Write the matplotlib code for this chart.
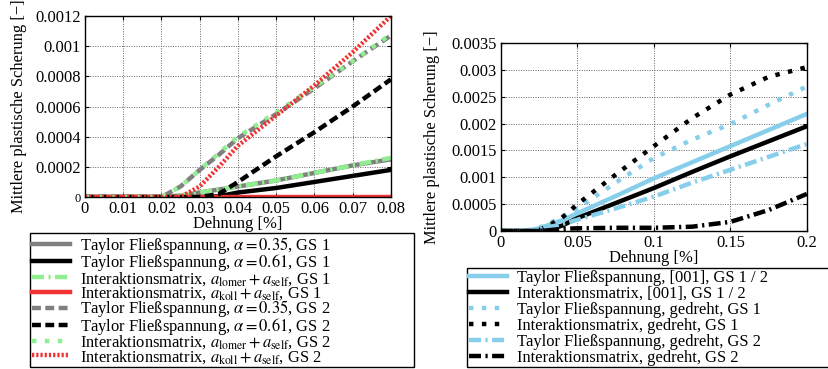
#!/usr/bin/env python
# -*- coding: utf-8 -*-

import matplotlib
matplotlib.use("Agg")
import matplotlib.pyplot as plt
from matplotlib.ticker import FixedLocator, FixedFormatter

plt.rcParams['font.family'] = ['Liberation Serif', 'DejaVu Serif']
plt.rcParams['mathtext.fontset'] = 'stix'

# left chart: Dehnung [%] vs. mittlere plastische Scherung
x_left = [0, 0.01, 0.02, 0.025, 0.03, 0.035, 0.04, 0.05, 0.06, 0.07, 0.08]
taylor035_gs1 = [0, 0, 0, 0.00001, 0.00003, 0.00005, 0.00007, 0.00011, 0.00016, 0.00021, 0.00025]
taylor061_gs1 = [0, 0, 0, 0, 0, 0.000005, 0.00003, 0.00006, 0.0001, 0.00014, 0.00018]
lomer_gs1 = [0, 0, 0, 0.00001, 0.00003, 0.00005, 0.00007, 0.00011, 0.00016, 0.00021, 0.00026]
koll_gs1 = [0, 0, 0, 0, 0, 0, 0, 0, 0, 0, 0]
taylor035_gs2 = [0, 0, 0, 0.00007, 0.00018, 0.00028, 0.00039, 0.00055, 0.00072, 0.0009, 0.00107]
taylor061_gs2 = [0, 0, 0, 0, 0, 0.00002, 0.0001, 0.00027, 0.00043, 0.0006, 0.00078]
lomer_gs2 = [0, 0, 0, 0.00007, 0.00018, 0.00029, 0.0004, 0.00056, 0.00073, 0.0009, 0.00108]
koll_gs2 = [0, 0, 0, 0, 0.00007, 0.0002, 0.00034, 0.00054, 0.00074, 0.00096, 0.0012]

left_labels = [
    r'Taylor Fließspannung, $\alpha = 0.35$, GS 1',
    r'Taylor Fließspannung, $\alpha = 0.61$, GS 1',
    r'Interaktionsmatrix, $a_{\mathrm{lomer}} + a_{\mathrm{self}}$, GS 1',
    r'Interaktionsmatrix, $a_{\mathrm{koll}} + a_{\mathrm{self}}$, GS 1',
    r'Taylor Fließspannung, $\alpha = 0.35$, GS 2',
    r'Taylor Fließspannung, $\alpha = 0.61$, GS 2',
    r'Interaktionsmatrix, $a_{\mathrm{lomer}} + a_{\mathrm{self}}$, GS 2',
    r'Interaktionsmatrix, $a_{\mathrm{koll}} + a_{\mathrm{self}}$, GS 2',
]
left_xticks = [0, 0.01, 0.02, 0.03, 0.04, 0.05, 0.06, 0.07, 0.08]
left_xticklabels = ['0', '0.01', '0.02', '0.03', '0.04', '0.05', '0.06', '0.07', '0.08']
left_yticks = [0, 0.0002, 0.0004, 0.0006, 0.0008, 0.001, 0.0012]
left_yticklabels = ['0', '0.0002', '0.0004', '0.0006', '0.0008', '0.001', '0.0012']

# right chart
x_right = [0, 0.01, 0.02, 0.025, 0.03, 0.04, 0.05, 0.075, 0.1, 0.125, 0.15, 0.175, 0.2]
taylor_001 = [0, 0, 0.00002, 0.00005, 0.0001, 0.0002, 0.00033, 0.00065, 0.00098, 0.00128, 0.00158, 0.00188, 0.00218]
inter_001 = [0, 0, 0, 0, 0.00001, 0.0001, 0.00024, 0.00052, 0.0008, 0.0011, 0.00139, 0.00167, 0.00195]
taylor_gedreht1 = [0, 0, 0.00002, 0.00006, 0.00012, 0.00026, 0.00042, 0.0009, 0.00136, 0.0017, 0.00199, 0.00235, 0.00269]
inter_gedreht1 = [0, 0, 0, 0.00002, 0.00008, 0.00025, 0.0005, 0.00105, 0.00158, 0.0021, 0.00254, 0.00287, 0.00305]
taylor_gedreht2 = [0, 0, 0.00001, 0.00003, 0.00006, 0.00013, 0.00021, 0.00042, 0.00064, 0.0009, 0.00114, 0.00138, 0.00162]
inter_gedreht2 = [0, 0, 0, 0, 0.00001, 0.00004, 0.00005, 0.00006, 0.00006, 0.00008, 0.00017, 0.00039, 0.00069]

right_labels = [
    'Taylor Fließspannung, [001], GS 1 / 2',
    'Interaktionsmatrix, [001], GS 1 / 2',
    'Taylor Fließspannung, gedreht, GS 1',
    'Interaktionsmatrix, gedreht, GS 1',
    'Taylor Fließspannung, gedreht, GS 2',
    'Interaktionsmatrix, gedreht, GS 2',
]
right_xticks = [0, 0.05, 0.1, 0.15, 0.2]
right_xticklabels = ['0', '0.05', '0.1', '0.15', '0.2']
right_yticks = [0, 0.0005, 0.001, 0.0015, 0.002, 0.0025, 0.003, 0.0035]
right_yticklabels = ['0', '0.0005', '0.001', '0.0015', '0.002', '0.0025', '0.003', '0.0035']

GRAY = '#808080'
GREEN = '#90ee90'
RED = '#f03232'
BLUE = '#87ceeb'
LW = 3.2
FS = 11.9

SOLID = '-'
DASHED = (0, (2.0, 1.0))
DASHDOT = (0, (2.7, 1.0, 0.5, 1.0))
DOTTED = (0, (1.0, 1.9))
FINEDOT = (0, (0.5, 0.45))


def setup_axes(ax, xticks, xlabels, yticks, ylabels, xlim, ylim):
    ax.set_xlim(*xlim)
    ax.set_ylim(*ylim)
    ax.xaxis.set_major_locator(FixedLocator(xticks))
    ax.xaxis.set_major_formatter(FixedFormatter(xlabels))
    ax.yaxis.set_major_locator(FixedLocator(yticks))
    ax.yaxis.set_major_formatter(FixedFormatter(ylabels))
    ax.grid(True, color='#666666', linestyle=(0, (1, 1.5)), linewidth=0.7)
    ax.tick_params(direction='in', length=3, width=0.8, labelsize=FS,
                   top=True, right=True, pad=3)
    for sp in ax.spines.values():
        sp.set_linewidth(1.0)
    ax.set_xlabel('Dehnung [%]', fontsize=FS, labelpad=-1)
    ax.set_ylabel('Mittlere plastische Scherung [−]', fontsize=FS)


def add_legend(ax, fig, box, spacing):
    leg = ax.legend(loc='upper left', bbox_to_anchor=box, bbox_transform=fig.transFigure,
                    mode='expand', borderaxespad=0, fontsize=FS, handlelength=2.3,
                    labelspacing=spacing, borderpad=0.1, handletextpad=0.6,
                    fancybox=False, framealpha=1)
    leg.get_frame().set_edgecolor('black')
    leg.get_frame().set_linewidth(1.0)


def main():
    fig = plt.figure(figsize=(8.29, 3.69), dpi=100)

    ax1 = fig.add_axes([0.1025, 0.466, 0.369, 0.4905])
    ax1.plot(x_left, taylor035_gs1, color=GRAY, lw=LW, ls=SOLID, label=left_labels[0])
    ax1.plot(x_left, taylor061_gs1, color='black', lw=LW, ls=SOLID, label=left_labels[1])
    ax1.plot(x_left, lomer_gs1, color=GREEN, lw=LW, ls=DASHDOT, label=left_labels[2])
    ax1.plot(x_left, koll_gs1, color=RED, lw=LW, ls=SOLID, label=left_labels[3])
    ax1.plot(x_left, taylor035_gs2, color=GRAY, lw=LW, ls=DASHED, label=left_labels[4])
    ax1.plot(x_left, taylor061_gs2, color='black', lw=LW, ls=DASHED, label=left_labels[5])
    ax1.plot(x_left, lomer_gs2, color=GREEN, lw=LW, ls=DOTTED, label=left_labels[6])
    ax1.plot(x_left, koll_gs2, color=RED, lw=LW, ls=FINEDOT, label=left_labels[7])
    setup_axes(ax1, left_xticks, left_xticklabels, left_yticks, left_yticklabels,
               (0, 0.08), (0, 0.0012))
    ax1.get_yticklabels()[0].set_fontsize(9)
    ax1.yaxis.set_label_coords(-0.19, 0.5)
    add_legend(ax1, fig, (0.0362, 0.0054, 0.463, 0.363), -0.21)

    ax2 = fig.add_axes([0.6043, 0.374, 0.369, 0.5095])
    ax2.plot(x_right, taylor_001, color=BLUE, lw=LW, ls=SOLID, label=right_labels[0])
    ax2.plot(x_right, inter_001, color='black', lw=LW, ls=SOLID, label=right_labels[1])
    ax2.plot(x_right, taylor_gedreht1, color=BLUE, lw=LW, ls=DOTTED, label=right_labels[2])
    ax2.plot(x_right, inter_gedreht1, color='black', lw=LW, ls=DOTTED, label=right_labels[3])
    ax2.plot(x_right, taylor_gedreht2, color=BLUE, lw=LW, ls=DASHDOT, label=right_labels[4])
    ax2.plot(x_right, inter_gedreht2, color='black', lw=LW, ls=DASHDOT, label=right_labels[5])
    setup_axes(ax2, right_xticks, right_xticklabels, right_yticks, right_yticklabels,
               (0, 0.2), (0, 0.0035))
    ax2.yaxis.set_label_coords(-0.2, 0.5)
    add_legend(ax2, fig, (0.5633, 0.008, 0.4367, 0.266), 0.0)

    fig.savefig('out.png', dpi=100)


if __name__ == "__main__":
    main()
